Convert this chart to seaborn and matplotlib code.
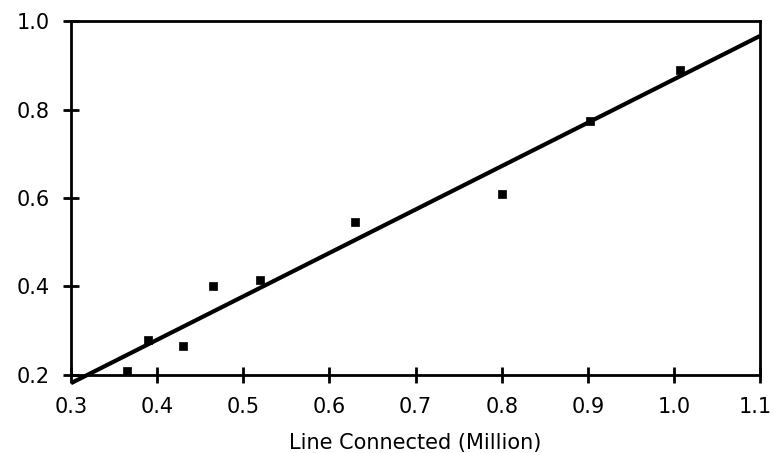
import matplotlib
matplotlib.use("Agg")
import matplotlib.pyplot as plt
import matplotlib.transforms as mtransforms
import seaborn as sns
import pandas as pd

# Data
lines_connected = [0.365, 0.39, 0.43, 0.465, 0.52, 0.63, 0.80, 0.903, 1.007]
response = [0.21, 0.28, 0.265, 0.40, 0.415, 0.545, 0.61, 0.775, 0.89]
x_ticks = [0.3, 0.4, 0.5, 0.6, 0.7, 0.8, 0.9, 1.0, 1.1]
y_ticks = [0.2, 0.4, 0.6, 0.8, 1.0]
x_label = "Line Connected (Million)"

df = pd.DataFrame({"x": lines_connected, "y": response})

sns.set_style("white")
plt.rcParams["font.family"] = ["DejaVu Sans"]

fig = plt.figure(figsize=(7.74, 4.53), dpi=100)
ax = fig.add_axes([0.0917, 0.1722, 0.982 - 0.0917, 0.9536 - 0.1722])
ax.set_xlim(0.3, 1.1)
ax.set_ylim(0.2, 1.0)

sns.regplot(data=df, x="x", y="y", ax=ax, ci=None, truncate=False,
            marker="s",
            scatter_kws={"s": 28, "color": "black", "edgecolors": "black",
                         "linewidths": 0.5, "alpha": 1, "zorder": 3},
            line_kws={"color": "black", "linewidth": 3.0, "clip_on": False,
                      "solid_capstyle": "butt"})

ax.set_xlim(0.3, 1.1)
ax.set_ylim(0.2, 1.0)
ax.set_xticks(x_ticks)
ax.set_yticks(y_ticks)
ax.set_xticklabels([f"{t:.1f}" for t in x_ticks])
ax.set_yticklabels([f"{t:.1f}" for t in y_ticks])

for s in ax.spines.values():
    s.set_visible(True)
    s.set_color("black")
    s.set_linewidth(2.0)

ax.tick_params(axis="both", which="major", direction="inout", length=11,
               width=2.0, color="black", labelsize=15, labelcolor="black",
               pad=10)
ax.tick_params(axis="x", bottom=True, top=False)
ax.tick_params(axis="y", left=True, right=False)

# keep the last x tick label inside the canvas
last = ax.get_xticklabels()[-1]
last.set_transform(last.get_transform() +
                   mtransforms.ScaledTranslation(-5 / 100, 0, fig.dpi_scale_trans))

ax.set_xlabel(x_label, fontsize=15, color="black", labelpad=12)
ax.set_ylabel("")

fig.savefig("out.png", dpi=100, facecolor="white")
